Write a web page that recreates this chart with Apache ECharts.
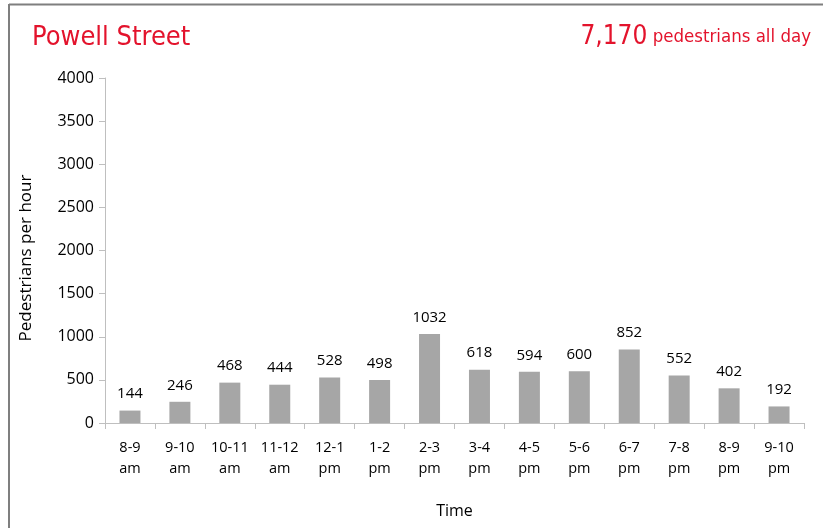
<!DOCTYPE html>
<html><head><meta charset="utf-8">
<script src="https://cdn.jsdelivr.net/npm/echarts@6/dist/echarts.min.js"></script>
<style>html,body{margin:0;padding:0;background:#fff}#c{width:823px;height:528px}</style>
</head><body><div id="c"></div>
<script>
const categories = ["8-9\nam","9-10\nam","10-11\nam","11-12\nam","12-1\npm","1-2\npm","2-3\npm","3-4\npm","4-5\npm","5-6\npm","6-7\npm","7-8\npm","8-9\npm","9-10\npm"];
const values = [144,246,468,444,528,498,1032,618,594,600,852,552,402,192];
const yTicks = [0,500,1000,1500,2000,2500,3000,3500,4000];
const title = "Powell Street";
const totalNum = "7,170";
const totalText = " pedestrians all day";
const xName = "Time";
const yName = "Pedestrians per hour";

const chart = echarts.init(document.getElementById('c'), null, {renderer:'canvas'});
const font = '"Open Sans", "Noto Sans", sans-serif';
const narrow = '"Liberation Sans Narrow", "DejaVu Sans Condensed", sans-serif';
const red = '#E3132C';
chart.setOption({
  animation:false,
  graphic:[
    {type:'line', shape:{x1:9,y1:4.5,x2:823,y2:4.5}, style:{stroke:'#7f7f7f',lineWidth:2}},
    {type:'line', shape:{x1:9,y1:4,x2:9,y2:528}, style:{stroke:'#7f7f7f',lineWidth:2}},
    {type:'text', left:32, top:24, style:{text:title, fill:red, font:'27px '+narrow}},
    {type:'text', right:12, top:24, style:{
      rich:{a:{fill:red,fontSize:26,fontFamily:narrow},b:{fill:red,fontSize:18.5,fontFamily:narrow}},
      text:'{a|'+totalNum+'}{b|'+totalText+'}'}},
    {type:'text', x:26, y:258, rotation:Math.PI/2, style:{text:yName, fill:'#000', font:'17px '+font, align:'center', verticalAlign:'middle'}}
  ],
  grid:{left:105, right:19, top:78, bottom:105, containLabel:false},
  xAxis:{type:'category', data:categories,
    name:xName, nameLocation:'middle', nameGap:80,
    nameTextStyle:{fontSize:16,color:'#000',fontFamily:font},
    axisLine:{lineStyle:{color:'#BFBFBF'}},
    axisTick:{show:true, length:6, alignWithLabel:false, lineStyle:{color:'#BFBFBF'}},
    axisLabel:{color:'#000', fontSize:14.5, fontFamily:font, lineHeight:21, margin:14, interval:0}
  },
  yAxis:{type:'value', min:0, max:4000, interval:500,
    splitLine:{show:false},
    axisLine:{show:true, lineStyle:{color:'#BFBFBF'}},
    axisTick:{show:true, length:6, lineStyle:{color:'#BFBFBF'}},
    axisLabel:{color:'#000', fontSize:16, fontFamily:font, margin:11,
      formatter:v=> yTicks.includes(v)? String(v):''}
  },
  series:[{type:'bar', data:values, barWidth:21,
    itemStyle:{color:'#A6A6A6'},
    label:{show:true, position:'top', distance:9, color:'#000', fontSize:15, fontFamily:font}
  }]
});
</script></body></html>
